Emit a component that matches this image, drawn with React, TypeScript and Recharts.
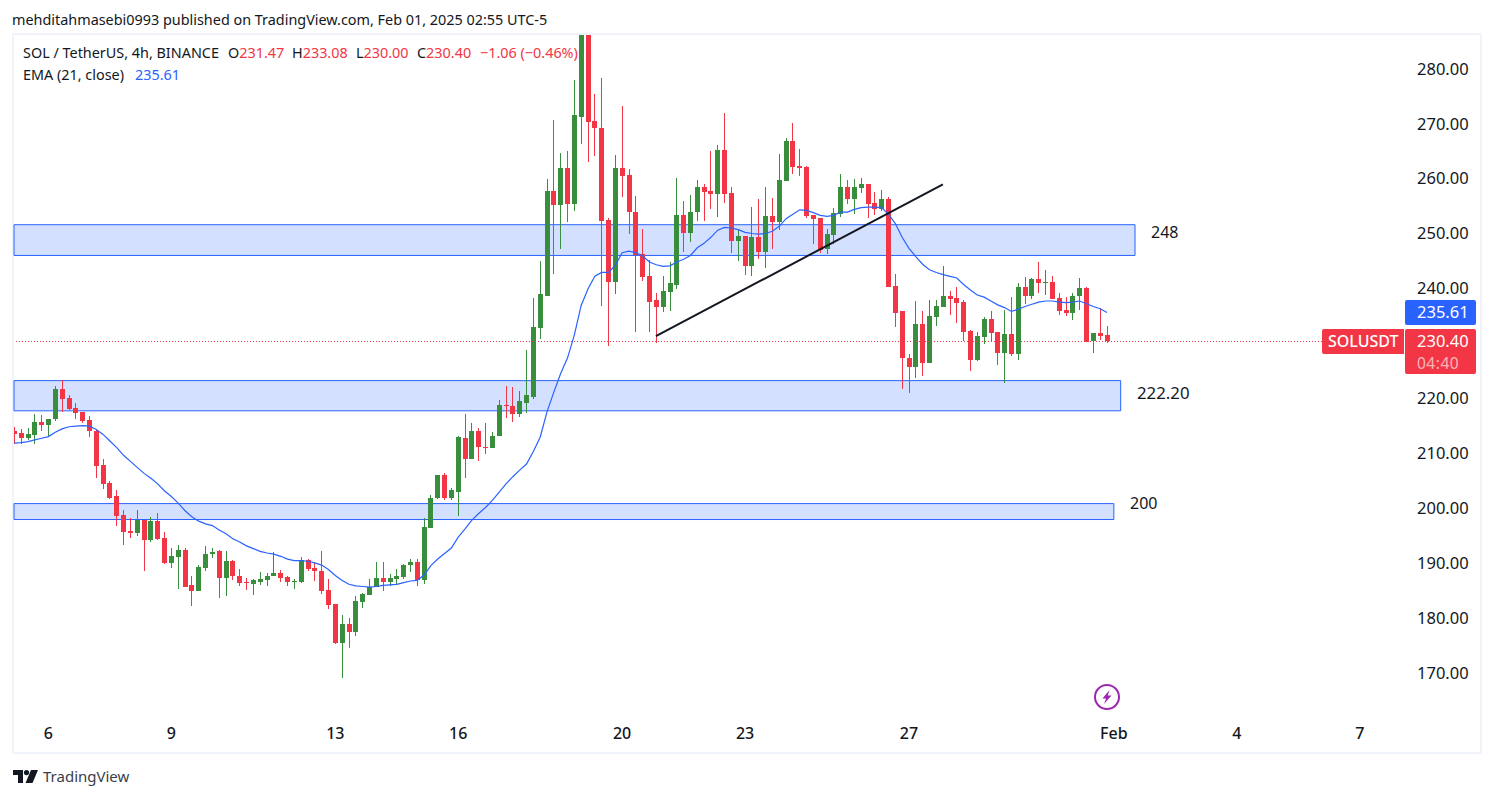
import {
  Bar,
  ComposedChart,
  Line,
  ReferenceArea,
  ReferenceLine,
  XAxis,
  YAxis,
} from "recharts";

const opens = [
  214.0, 213.6, 212.7, 213.3, 215.6, 215.1, 216.2, 221.6, 220.0, 218.2,
  217.4, 216.0, 214.1, 207.8, 204.5, 202.1, 198.7, 195.8, 195.4, 197.8,
  194.1, 197.6, 194.5, 189.9, 191.0, 192.3, 185.9, 184.8, 189.0, 191.6,
  192.1, 187.2, 190.3, 187.7, 186.5, 186.1, 186.6, 186.8, 187.6, 188.1,
  187.4, 186.5, 186.5, 190.5, 189.0, 188.5, 185.0, 182.5, 175.4, 178.8,
  177.5, 182.8, 184.1, 185.6, 187.2, 186.6, 187.0, 187.4, 189.6, 190.1,
  186.8, 196.3, 201.8, 206.0, 201.8, 203.0, 212.7, 208.9, 214.1, 211.2,
  210.9, 213.1, 218.7, 218.5, 217.1, 219.2, 220.3, 232.7, 238.7, 257.7,
  255.1, 261.9, 255.3, 271.3, 293.5, 270.4, 269.3, 252.4, 241.1, 261.9,
  260.6, 254.0, 246.2, 242.2, 237.8, 236.6, 239.3, 240.7, 253.3, 250.0,
  253.9, 258.4, 257.7, 257.1, 265.2, 257.3, 248.6, 249.5, 244.0, 249.3,
  246.6, 253.1, 252.0, 259.5, 266.8, 262.2, 262.1, 253.3, 252.8, 247.1,
  249.7, 253.5, 258.4, 256.2, 258.2, 259.0, 255.5, 254.4, 256.2, 240.4,
  235.8, 227.4, 225.6, 233.6, 226.4, 234.7, 236.6, 238.7, 238.2, 237.5,
  232.2, 226.9, 231.1, 234.4, 232.0, 228.2, 231.6, 228.0, 240.2, 238.7,
  241.7, 240.9, 241.1, 238.2, 236.0, 235.5, 238.6, 240.0, 230.4, 231.8,
  231.47,
];

const highs = [
  214.8, 214.3, 214.5, 217.1, 216.9, 216.3, 222.2, 223.3, 220.5, 219.1,
  217.4, 216.7, 214.3, 209.0, 205.0, 203.2, 199.6, 198.1, 199.6, 197.8,
  198.3, 199.0, 195.6, 192.8, 193.2, 192.8, 187.6, 189.6, 193.0, 192.8,
  192.3, 192.1, 190.5, 188.8, 187.2, 187.0, 188.3, 188.1, 191.9, 188.7,
  187.6, 187.0, 191.0, 190.8, 189.9, 192.1, 187.0, 182.6, 180.5, 179.9,
  183.9, 184.6, 187.0, 190.1, 190.1, 187.9, 188.8, 189.8, 190.8, 190.8,
  198.1, 202.3, 206.1, 206.3, 203.6, 213.1, 217.1, 215.4, 214.5, 215.4,
  213.8, 219.6, 222.2, 222.0, 221.3, 228.7, 238.2, 244.9, 259.9, 270.6,
  264.6, 265.0, 277.9, 295.0, 295.0, 275.4, 278.3, 252.8, 264.3, 273.2,
  261.7, 256.8, 250.9, 245.1, 239.1, 242.2, 244.8, 260.1, 255.9, 257.0,
  259.7, 259.0, 265.0, 266.2, 271.9, 258.4, 250.6, 249.5, 254.8, 256.2,
  258.4, 256.4, 264.4, 267.3, 270.1, 265.3, 262.2, 253.3, 252.8, 250.8,
  254.6, 260.8, 259.7, 259.9, 260.1, 259.0, 257.5, 257.9, 256.6, 242.6,
  235.8, 228.0, 237.7, 235.8, 237.8, 237.8, 244.0, 239.6, 240.2, 237.8,
  232.5, 232.0, 234.7, 235.8, 232.0, 236.0, 238.4, 240.9, 242.0, 241.8,
  244.8, 243.3, 242.2, 239.1, 238.4, 239.1, 241.8, 240.2, 231.8, 236.4,
  233.08,
];

const lows = [
  211.7, 211.5, 212.4, 211.7, 214.0, 213.2, 215.8, 217.4, 217.7, 216.2,
  215.4, 212.9, 205.4, 203.6, 201.8, 196.7, 193.2, 194.5, 194.8, 188.5,
  193.7, 194.1, 189.7, 189.2, 185.2, 185.7, 182.1, 184.8, 188.5, 191.0,
  183.5, 183.9, 186.8, 185.7, 185.0, 184.1, 185.9, 185.7, 187.5, 186.6,
  185.7, 185.2, 186.3, 188.7, 186.6, 184.3, 181.5, 175.3, 169.0, 174.4,
  176.6, 181.9, 184.1, 185.5, 184.8, 185.7, 185.9, 187.0, 188.5, 185.9,
  186.1, 196.3, 201.7, 201.4, 201.4, 198.5, 205.4, 208.8, 208.5, 209.8,
  210.8, 213.0, 216.3, 215.6, 216.5, 217.3, 219.8, 230.7, 238.7, 242.6,
  247.1, 252.0, 254.0, 266.2, 263.0, 264.1, 236.7, 229.5, 238.9, 256.6,
  249.9, 232.0, 241.5, 232.0, 230.0, 235.6, 235.8, 239.8, 246.6, 248.4,
  252.2, 252.2, 254.4, 253.1, 255.5, 246.4, 244.9, 242.4, 242.2, 245.3,
  243.7, 247.1, 250.6, 259.5, 260.8, 260.4, 252.8, 248.0, 246.4, 246.2,
  248.0, 253.0, 255.3, 253.5, 257.3, 252.8, 253.3, 254.0, 240.2, 232.9,
  221.6, 220.9, 223.6, 224.0, 226.3, 233.1, 236.5, 235.3, 233.6, 230.4,
  225.1, 226.7, 229.8, 230.2, 226.0, 222.7, 227.6, 226.9, 237.1, 238.0,
  239.1, 238.7, 238.0, 235.1, 234.9, 234.2, 236.0, 230.2, 228.2, 230.5,
  230.0,
];

const closes = [
  213.5, 212.7, 213.4, 215.6, 215.1, 216.3, 221.6, 219.8, 218.0, 217.3,
  215.8, 214.0, 207.6, 204.3, 201.9, 198.5, 195.6, 195.4, 197.8, 194.1,
  197.6, 194.3, 189.9, 191.2, 192.3, 185.7, 184.8, 189.2, 191.7, 191.9,
  187.2, 190.3, 187.6, 186.3, 186.3, 186.8, 187.0, 187.7, 188.1, 187.2,
  186.5, 186.7, 190.5, 188.8, 188.5, 184.8, 182.3, 175.4, 178.8, 177.5,
  183.0, 184.3, 185.7, 187.2, 186.6, 187.2, 187.6, 189.7, 190.1, 186.8,
  196.5, 201.9, 206.0, 201.8, 203.2, 212.9, 208.9, 214.1, 211.1, 211.1,
  213.2, 218.7, 218.5, 217.1, 219.4, 220.5, 232.9, 238.9, 257.7, 255.1,
  261.9, 255.3, 271.5, 293.5, 270.3, 269.2, 252.2, 241.1, 261.9, 260.4,
  253.9, 246.0, 242.0, 237.6, 236.6, 239.5, 240.9, 253.3, 250.0, 254.0,
  258.4, 257.5, 257.1, 265.2, 257.1, 248.6, 249.5, 244.0, 249.3, 246.6,
  253.1, 252.0, 259.7, 266.8, 262.1, 261.9, 253.1, 252.6, 246.9, 249.9,
  253.7, 258.4, 256.2, 258.4, 259.0, 255.3, 254.4, 256.2, 240.2, 235.6,
  227.3, 225.6, 233.6, 226.4, 234.9, 236.7, 238.7, 238.0, 237.3, 232.0,
  226.9, 231.3, 234.4, 231.8, 228.2, 231.6, 228.0, 240.2, 238.7, 241.7,
  240.9, 241.1, 238.0, 235.8, 235.5, 238.7, 240.0, 230.2, 231.8, 231.3,
  230.4,
];

const emaValues = [
  211.8, 211.9, 212.1, 212.4, 212.7, 213.0, 213.8, 214.4, 214.8, 214.9,
  215.0, 214.9, 214.3, 213.4, 212.2, 211.0, 209.6, 208.5, 207.4, 206.3,
  205.4, 204.4, 203.1, 202.1, 200.9, 199.5, 198.4, 197.6, 197.1, 196.8,
  196.0, 195.3, 194.4, 193.8, 193.1, 192.6, 192.1, 191.8, 191.6, 191.2,
  190.7, 190.4, 190.4, 190.3, 190.0, 189.6, 188.8, 187.7, 186.8, 186.1,
  185.8, 185.7, 185.6, 185.7, 185.9, 186.0, 186.1, 186.4, 186.7, 186.8,
  187.8, 189.5, 190.7, 191.7, 192.7, 194.7, 196.2, 197.8, 199.0, 200.1,
  201.4, 202.9, 204.4, 205.7, 206.9, 208.0, 210.3, 212.9, 217.5, 221.1,
  224.5, 227.3, 231.5, 236.9, 239.9, 242.2, 242.9, 242.9, 244.2, 246.5,
  246.8, 246.5, 245.9, 244.8, 244.3, 244.0, 244.1, 244.8, 245.3, 246.0,
  247.4, 248.2, 249.3, 250.6, 251.1, 251.0, 250.7, 250.2, 250.0, 249.9,
  250.0, 250.4, 251.3, 252.7, 253.5, 254.3, 254.2, 253.8, 253.3, 253.1,
  253.3, 253.9, 253.9, 254.4, 254.7, 254.8, 254.8, 254.7, 253.5, 251.8,
  249.3, 247.3, 245.8, 244.4, 243.4, 242.9, 242.5, 242.2, 241.9, 240.7,
  239.7, 238.8, 238.4, 237.7, 237.0, 236.5, 235.8, 236.2, 236.7, 237.1,
  237.5, 237.7, 237.7, 237.5, 237.4, 237.5, 237.7, 237.2, 236.7, 236.3,
  235.61,
];

const dayTicks = [5, 23, 47, 65, 89, 107, 131, 161, 179, 197];
const dayLabels = ["6", "9", "13", "16", "20", "23", "27", "Feb", "4", "7"];
const priceTicks = [170, 180, 190, 200, 210, 220, 240, 250, 260, 270, 280];

// zones: top price, bottom price, candle index where the box stops
const zoneTops = [251.6, 223.2, 200.8];
const zoneBottoms = [246.0, 217.7, 197.9];
const zoneEnds = [164.1, 162.0, 161.0];

const trendStart = { x: 93.95, y: 231.3 };
const trendEnd = { x: 135.97, y: 258.95 };

const rows = opens.map((open, i) => ({
  i,
  open,
  high: highs[i],
  low: lows[i],
  close: closes[i],
  ema: emaValues[i],
}));

const UP = "#388e3c";
const DOWN = "#f23645";
const BLUE = "#2962ff";
const INK = "#131722";
const FONT = "'Noto Sans', 'Open Sans', sans-serif";

function Candle(props: any) {
  const { x, y, width, height, payload } = props;
  const color = payload.close >= payload.open ? UP : DOWN;
  const perPrice = height / (payload.high - payload.low);
  const bodyTop = y + (payload.high - Math.max(payload.open, payload.close)) * perPrice;
  const bodyBottom = y + (payload.high - Math.min(payload.open, payload.close)) * perPrice;
  const cx = Math.round(x + width / 2 - 0.5);
  const top = Math.round(bodyTop);
  return (
    <g>
      <rect x={cx} y={Math.round(y)} width={1} height={Math.max(1, Math.round(height))} fill={color} />
      <rect x={cx - 2} y={top} width={5} height={Math.max(1, Math.round(bodyBottom) - top)} fill={color} />
    </g>
  );
}

function Txt({ x, y, size = 14.4, color = INK, weight = 400, spacing = 0, children }: any) {
  return (
    <div
      style={{
        position: "absolute",
        left: x,
        top: y,
        fontSize: size,
        lineHeight: "20px",
        color,
        fontWeight: weight,
        letterSpacing: spacing,
        whiteSpace: "nowrap",
        fontFamily: FONT,
      }}
    >
      {children}
    </div>
  );
}

function Tag({ x, y, w, h, fill, radius }: any) {
  return <div style={{ position: "absolute", left: x, top: y, width: w, height: h, background: fill, borderRadius: radius }} />;
}

export default function App() {
  return (
    <div style={{ position: "absolute", left: 0, top: 0, width: 1494, height: 798, background: "#fff", overflow: "hidden" }}>
      <div style={{ position: "absolute", left: 12, top: 33, width: 1466, height: 717, border: "2px solid #f0f3fa" }} />
      <div style={{ position: "absolute", left: 0, top: 0 }}>
        <ComposedChart
          width={1494}
          height={798}
          data={rows}
          margin={{ top: 35, right: 13, bottom: 50, left: 14 }}
          barSize={5}
        >
          <XAxis
            dataKey="i"
            type="number"
            domain={[-0.044, 202.9]}
            ticks={dayTicks}
            tickFormatter={(v) => dayLabels[dayTicks.indexOf(v)]}
            height={30}
            axisLine={false}
            tickLine={false}
            tickMargin={4}
            interval={0}
            allowDataOverflow
            tick={{ fill: INK, fontSize: 16, fontFamily: FONT, fontWeight: 500 }}
          />
          <YAxis
            orientation="right"
            width={81}
            domain={[161.75, 286.15]}
            ticks={priceTicks}
            allowDataOverflow
            axisLine={false}
            tickLine={false}
            tickMargin={11}
            interval={0}
            tickFormatter={(v) => v.toFixed(2)}
            tick={{ fill: INK, fontSize: 16.5, fontFamily: FONT }}
          />
          {zoneTops.map((top, k) => (
            <ReferenceArea
              key={k}
              x1={-0.044}
              x2={zoneEnds[k]}
              y1={zoneBottoms[k]}
              y2={top}
              fill={BLUE}
              fillOpacity={0.2}
              stroke={BLUE}
              strokeWidth={1}
            />
          ))}
          <Line dataKey="ema" stroke={BLUE} strokeWidth={1.2} dot={false} activeDot={false} isAnimationActive={false} />
          <Bar dataKey={(d: any) => [d.low, d.high]} shape={<Candle />} isAnimationActive={false} />
          <ReferenceLine
            y={closes[closes.length - 1]}
            stroke={DOWN}
            strokeWidth={1}
            strokeDasharray="1 2"
            shapeRendering="crispEdges"
          />
          <ReferenceLine
            segment={[trendStart, trendEnd]}
            stroke={INK}
            strokeWidth={2}
          />
        </ComposedChart>
      </div>

      <Txt x={12} y={10}>mehditahmasebi0993 published on TradingView.com, Feb 01, 2025 02:55 UTC-5</Txt>
      <Txt x={23} y={43}>SOL / TetherUS, 4h, BINANCE</Txt>
      <Txt x={228} y={43}>O<span style={{ color: DOWN }}>231.47</span></Txt>
      <Txt x={292} y={43}>H<span style={{ color: DOWN }}>233.08</span></Txt>
      <Txt x={356} y={43}>L<span style={{ color: DOWN }}>230.00</span></Txt>
      <Txt x={417} y={43}>C<span style={{ color: DOWN }}>230.40</span></Txt>
      <Txt x={480} y={43} color={DOWN}>−1.06 (−0.46%)</Txt>
      <Txt x={23} y={65}>EMA (21, close)</Txt>
      <Txt x={135} y={65} color={BLUE}>235.61</Txt>

      <Txt x={1151} y={222} size={16}>248</Txt>
      <Txt x={1137} y={383} size={16.8}>222.20</Txt>
      <Txt x={1130} y={493} size={16}>200</Txt>

      <Tag x={1405} y={300} w={71} h={25} fill={BLUE} radius="2px" />
      <Txt x={1417} y={302} size={16.5} color="#fff">235.61</Txt>
      <Tag x={1322} y={329} w={82} h={25} fill={DOWN} radius="2px 0 0 2px" />
      <Txt x={1328} y={331} size={16} color="#fff" weight={500}>SOLUSDT</Txt>
      <Tag x={1405} y={329} w={71} h={45} fill={DOWN} radius="2px" />
      <Txt x={1417} y={331} size={16.5} color="#fff">230.40</Txt>
      <Txt x={1417} y={353} size={15.5} spacing={0.5} color="rgba(255,255,255,0.65)">04:40</Txt>

      <svg style={{ position: "absolute", left: 1094, top: 684 }} width={26} height={26} viewBox="0 0 26 26">
        <circle cx={13} cy={13} r={12} fill="none" stroke="#9c27b0" strokeWidth={2} />
        <path d="M15.5 6 L8.5 14.5 H12 L10 20 L17.5 11.5 H13.8 Z" fill="#9c27b0" />
      </svg>

      <svg style={{ position: "absolute", left: 13, top: 770 }} width={25} height={13} viewBox="0 0 25 13">
        <path d="M0 0 H10 V13 H5 V5 H0 Z" fill={INK} />
        <circle cx={13.5} cy={2.6} r={2.6} fill={INK} />
        <path d="M18 0 H25 L19.5 13 H12.5 Z" fill={INK} />
      </svg>
      <Txt x={43} y={766} size={15} color="#3a3e4a">TradingView</Txt>
    </div>
  );
}
